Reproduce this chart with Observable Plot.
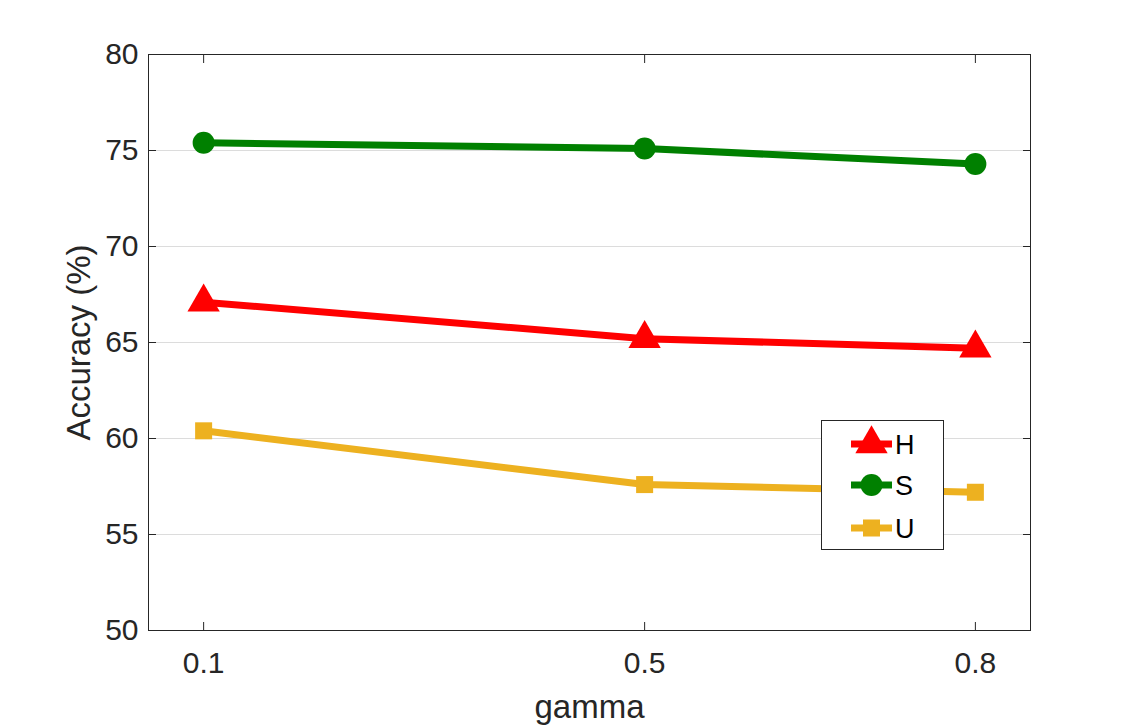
<!DOCTYPE html>
<html><head><meta charset="utf-8">
<script src="https://cdn.jsdelivr.net/npm/d3@7"></script>
<script src="https://cdn.jsdelivr.net/npm/@observablehq/plot@0.6"></script>
<style>
body{margin:0;background:#fff;}
#wrap{position:relative;width:1139px;height:726px;}
#legend{position:absolute;left:821px;top:420px;width:121px;height:128px;border:1px solid #262626;background:#fff;}
#legend svg{display:block;}
</style></head><body><div id="wrap"></div>
<script>
const gammas = [0.1, 0.5, 0.8];
const seriesNames = ["H", "S", "U"];
const H = [67.1, 65.2, 64.7];
const S = [75.4, 75.1, 74.3];
const U = [60.4, 57.6, 57.2];
const yTicks = [50, 55, 60, 65, 70, 75, 80];
const xTicks = [0.1, 0.5, 0.8];
const xLabel = "gamma";
const yLabel = "Accuracy (%)";
const colors = ["#ff0000", "#008000", "#edb120"];
const symbols = ["triangle", "circle", "square"];
const radii = [12, 11, 9.6];

const values = {H, S, U};
const rows = seriesNames.flatMap(s => gammas.map((g, i) => ({series: s, gamma: g, acc: values[s][i]})));
const font = "'Liberation Sans', Arial, Helvetica, sans-serif";
const ink = "#262626";
const lineW = 7;

const chart = Plot.plot({
  width: 1139, height: 726,
  marginLeft: 148, marginRight: 109, marginTop: 54, marginBottom: 96,
  style: {fontFamily: font, background: "white", color: ink},
  x: {domain: [0.05, 0.85]},
  y: {domain: [50, 80]},
  color: {domain: seriesNames, range: colors},
  symbol: {domain: seriesNames, range: symbols},
  marks: [
    Plot.gridY(yTicks.slice(1, -1), {stroke: "#dcdcdc", strokeOpacity: 1, strokeWidth: 1}),
    Plot.line(rows, {x: "gamma", y: "acc", z: "series", stroke: "series", strokeWidth: lineW, strokeLinejoin: "round"}),
    ...seriesNames.map((s, i) => Plot.dot(rows.filter(d => d.series === s), {
      x: "gamma", y: "acc", symbol: "series", fill: "series", r: radii[i], stroke: "none"
    })),
    Plot.frame({stroke: ink, strokeWidth: 1}),
    Plot.axisY(yTicks, {anchor: "left", tickSize: 8, dx: 8, fill: "none", label: null, stroke: ink}),
    Plot.axisY(yTicks, {anchor: "right", tickSize: 8, dx: -8, fill: "none", label: null, stroke: ink}),
    Plot.axisX(xTicks, {anchor: "bottom", tickSize: 8, dy: -8, fill: "none", label: null, stroke: ink}),
    Plot.axisX(xTicks, {anchor: "top", tickSize: 8, dy: 8, fill: "none", label: null, stroke: ink}),
    Plot.axisY(yTicks, {anchor: "left", tickSize: 0, tickPadding: 10, fontSize: 30, fill: ink, label: null}),
    Plot.axisX(xTicks, {anchor: "bottom", tickSize: 0, tickPadding: 21, fontSize: 30, fill: ink, label: null, tickFormat: d3.format(".1f")}),
    Plot.text([xLabel], {text: d => d, frameAnchor: "bottom", textAnchor: "middle", dy: 87, lineAnchor: "bottom", fontSize: 33, fill: ink}),
    Plot.text([yLabel], {text: d => d, frameAnchor: "left", textAnchor: "middle", rotate: -90, dx: -59, lineAnchor: "bottom", fontSize: 33, fill: ink})
  ]
});
const wrap = document.getElementById("wrap");
wrap.appendChild(chart);

// legend
const leg = d3.select(wrap).append("div").attr("id", "legend");
const svg = leg.append("svg").attr("width", 121).attr("height", 128);
const entryY = [23, 64, 107];
const symMap = {triangle: d3.symbolTriangle, circle: d3.symbolCircle, square: d3.symbolSquare};
seriesNames.forEach((s, i) => {
  const g = svg.append("g").attr("transform", `translate(0,${entryY[i]})`);
  g.append("line").attr("x1", 29).attr("x2", 70).attr("y1", 0).attr("y2", 0)
    .attr("stroke", colors[i]).attr("stroke-width", lineW);
  g.append("path").attr("transform", "translate(49.5,0)")
    .attr("d", d3.symbol(symMap[symbols[i]], Math.PI * radii[i] * radii[i])())
    .attr("fill", colors[i]);
  g.append("text").attr("x", 73).attr("y", 0).attr("dy", "0.36em")
    .attr("font-family", font).attr("font-size", 27).attr("fill", "#000").text(s);
});
</script>
</body></html>
